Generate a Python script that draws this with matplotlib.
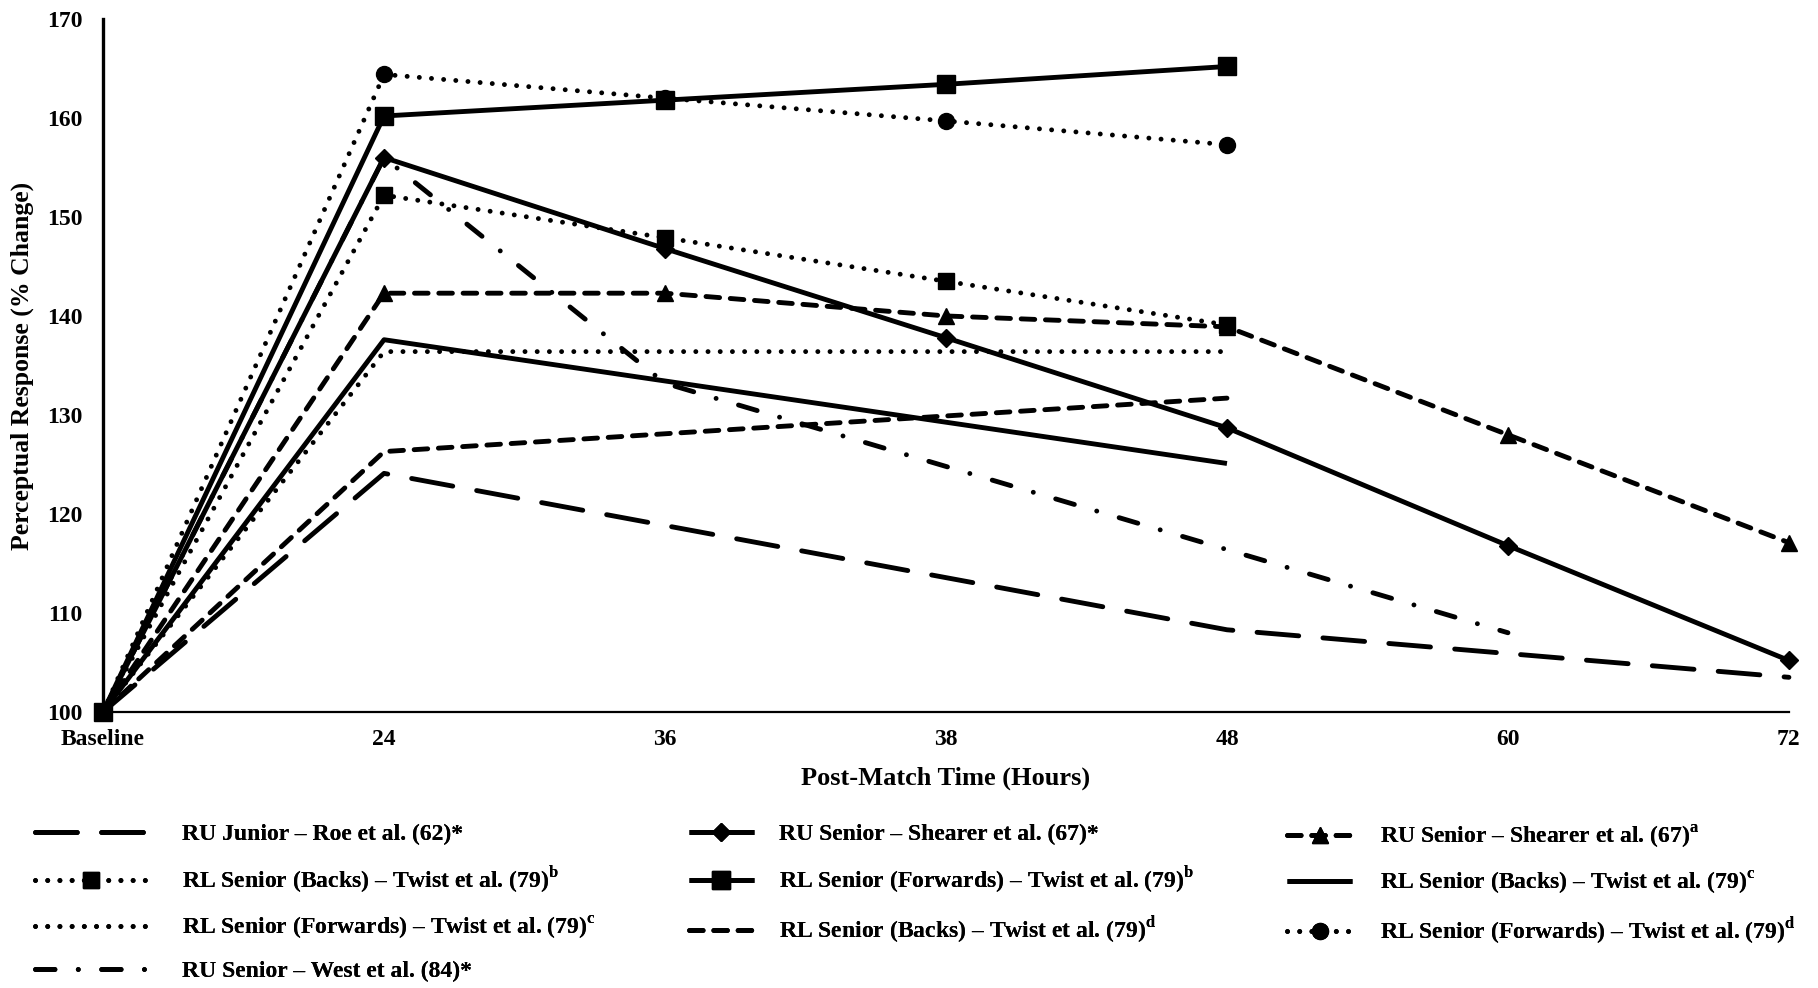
import numpy as np
import matplotlib.pyplot as plt

plt.rcParams['font.family'] = ['Liberation Serif', 'DejaVu Serif']
plt.rcParams['font.weight'] = 'bold'
plt.rcParams['mathtext.fontset'] = 'custom'
plt.rcParams['mathtext.rm'] = 'Liberation Serif:bold'
plt.rcParams['mathtext.bf'] = 'Liberation Serif:bold'

nan = np.nan
cats = ['Baseline', '24', '36', '38', '48', '60', '72']

# % change values per study (nan = no measurement at that time)
roe = [100, 124.1, nan, nan, 108.3, nan, 103.5]
shearer_star = [100, 156.0, 146.8, 137.8, 128.7, 116.8, 105.2]
shearer_a = [100, 142.3, 142.3, 140.0, 138.9, 128.0, 117.1]
twist_b_backs = [100, 152.2, 147.9, 143.5, 139.1, nan, nan]
twist_b_fwds = [100, 160.2, 161.8, 163.4, 165.2, nan, nan]
twist_c_backs = [100, 137.6, nan, nan, 125.1, nan, nan]
twist_c_fwds = [100, 136.4, nan, nan, 136.4, nan, nan]
twist_d_backs = [100, 126.3, nan, nan, 131.7, nan, nan]
twist_d_fwds = [100, 164.4, 162.0, 159.7, 157.3, nan, nan]
west = [100, 156.0, 133.2, nan, nan, 108.0, nan]

labels = ['RU Junior \u2013 Roe et al. (62)*',
          'RU Senior \u2013 Shearer et al. (67)*',
          'RU Senior \u2013 Shearer et al. (67)$^{\\mathbf{a}}$',
          'RL Senior (Backs) \u2013 Twist et al. (79)$^{\\mathbf{b}}$',
          'RL Senior (Forwards) \u2013 Twist et al. (79)$^{\\mathbf{b}}$',
          'RL Senior (Backs) \u2013 Twist et al. (79)$^{\\mathbf{c}}$',
          'RL Senior (Forwards) \u2013 Twist et al. (79)$^{\\mathbf{c}}$',
          'RL Senior (Backs) \u2013 Twist et al. (79)$^{\\mathbf{d}}$',
          'RL Senior (Forwards) \u2013 Twist et al. (79)$^{\\mathbf{d}}$',
          'RU Senior \u2013 West et al. (84)*']

fig = plt.figure(figsize=(18.18, 9.88), dpi=100, facecolor='w')
ax = fig.add_axes([0.0567, 0.2794, 0.9273, 0.7014])

x = np.arange(len(cats))
lw = 3.5
dotted = (0, (0.01, 2.5))
shortdash = (0, (2.8, 2.2))
longdash = (0, (8.6, 5.0))
dashdot = (0, (4.0, 4.8, 0.01, 4.8))


def draw(vals, ls, marker=None, ms=10):
    v = np.array(vals, dtype=float)
    ok = ~np.isnan(v)
    line, = ax.plot(x[ok], v[ok], color='black', lw=lw, linestyle=ls,
                    marker=marker, markersize=ms, markeredgecolor='black',
                    markerfacecolor='black', dash_capstyle='round',
                    solid_capstyle='butt', clip_on=False)
    return line


h = []
h.append(draw(roe, longdash))
h.append(draw(shearer_star, '-', 'D', 9.5))
h.append(draw(shearer_a, shortdash, '^', 11.5))
h.append(draw(twist_b_backs, dotted, 's', 11.5))
h.append(draw(twist_b_fwds, '-', 's', 12.5))
h.append(draw(twist_c_backs, '-'))
h.append(draw(twist_c_fwds, dotted))
h.append(draw(twist_d_backs, shortdash))
h.append(draw(twist_d_fwds, dotted, 'o', 11.5))
h.append(draw(west, dashdot))

ax.set_xlim(0, 6)
ax.set_ylim(100, 170)
ax.set_xticks(x)
ax.set_xticklabels(cats)
ax.set_yticks(np.arange(100, 171, 10))
ax.tick_params(axis='both', length=0, labelsize=17)
ax.tick_params(axis='y', pad=15)
ax.tick_params(axis='x', pad=12)
for s in ['top', 'right']:
    ax.spines[s].set_visible(False)
ax.spines['left'].set_linewidth(2.4)
ax.spines['bottom'].set_linewidth(1.6)

ax.set_xlabel('Post-Match Time (Hours)', fontsize=19, fontweight='bold', labelpad=12)
ax.set_ylabel('Perceptual Response (% Change)', fontsize=18.5, fontweight='bold', labelpad=9)

# legend in three columns, row-major order like the original
cols = [([0, 3, 6, 9], 0.019, 4.75, 1.5),
        ([1, 4, 7], 0.379, 2.75, 1.05),
        ([2, 5, 8], 0.708, 2.75, 1.2)]
for idx, xpos, hl, hp in cols:
    leg = fig.legend([h[i] for i in idx], [labels[i] for i in idx],
                     loc='upper left', bbox_to_anchor=(xpos, 0.166),
                     frameon=False, fontsize=17, handlelength=hl,
                     handletextpad=hp, labelspacing=0.8, borderpad=0,
                     borderaxespad=0)
    fig.add_artist(leg)

plt.savefig('out.png', dpi=100)
